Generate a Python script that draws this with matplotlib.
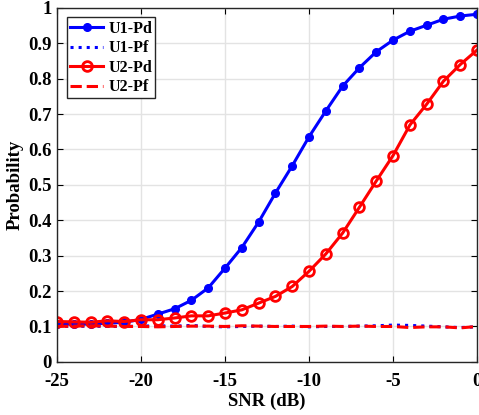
import matplotlib
matplotlib.use("Agg")
import matplotlib.pyplot as plt
import numpy as np

plt.rcParams['font.family'] = ['Liberation Serif', 'DejaVu Serif']
plt.rcParams['font.weight'] = 'bold'
plt.rcParams['axes.unicode_minus'] = False

# SNR sweep in dB
snr = list(range(-25, 1))

u1_pd = [0.108, 0.106, 0.107, 0.109, 0.112, 0.120, 0.135, 0.150, 0.174, 0.209,
         0.265, 0.323, 0.395, 0.477, 0.554, 0.636, 0.709, 0.779, 0.831, 0.876,
         0.909, 0.934, 0.951, 0.968, 0.977, 0.982]
u1_pf = [0.101, 0.100, 0.101, 0.100, 0.100, 0.101, 0.102, 0.101, 0.103, 0.100,
         0.099, 0.100, 0.101, 0.100, 0.101, 0.099, 0.100, 0.100, 0.101, 0.102,
         0.104, 0.103, 0.101, 0.099, 0.097, 0.099]
u2_pd = [0.114, 0.113, 0.112, 0.116, 0.114, 0.119, 0.119, 0.124, 0.130, 0.130,
         0.138, 0.147, 0.166, 0.185, 0.213, 0.256, 0.305, 0.364, 0.437, 0.511,
         0.583, 0.669, 0.728, 0.793, 0.840, 0.881]
u2_pf = [0.100, 0.101, 0.102, 0.101, 0.100, 0.100, 0.099, 0.100, 0.101, 0.101,
         0.100, 0.102, 0.101, 0.100, 0.100, 0.100, 0.101, 0.100, 0.101, 0.100,
         0.100, 0.097, 0.099, 0.099, 0.096, 0.100]

fig = plt.figure(figsize=(4.79, 4.15), dpi=100)
ax = fig.add_axes([0.119, 0.128, 0.877, 0.853])

ax.plot(snr, u1_pd, '-o', color='blue', lw=2.2, ms=5.5, mfc='blue', label='U1-Pd')
ax.plot(snr, u1_pf, ':', color='blue', lw=2.2, label='U1-Pf')
ax.plot(snr, u2_pd, '-o', color='red', lw=2.2, ms=7, mfc='none', mew=2, label='U2-Pd')
ax.plot(snr, u2_pf, '--', color='red', lw=2.2, label='U2-Pf')

ax.set_xlim(-25, 0)
ax.set_ylim(0, 1)
ax.set_xticks(range(-25, 1, 5))
ax.set_yticks(np.arange(0, 1.01, 0.1))
ax.set_yticklabels(['0', '0.1', '0.2', '0.3', '0.4', '0.5', '0.6', '0.7', '0.8', '0.9', '1'])
ax.grid(True, color='#e3e3e3', lw=1)
ax.set_axisbelow(True)
ax.tick_params(direction='in', labelsize=13.5, length=4, top=True, right=True)
ax.tick_params(axis='x', pad=8)
ax.tick_params(axis='y', pad=4)
for s in ax.spines.values():
    s.set_linewidth(1)
    s.set_color('#262626')

ax.set_xlabel('SNR (dB)', fontsize=13.5, fontweight='bold', labelpad=2)
ax.set_ylabel('Probability', fontsize=13.5, fontweight='bold', labelpad=3)

leg = ax.legend(loc='upper left', fontsize=11.5, fancybox=False, framealpha=1,
                edgecolor='#262626', handlelength=2.1, handletextpad=0.3,
                borderaxespad=0.6, labelspacing=0.22, borderpad=0.2)
leg.get_frame().set_linewidth(1)

fig.savefig('out.png', dpi=100)
